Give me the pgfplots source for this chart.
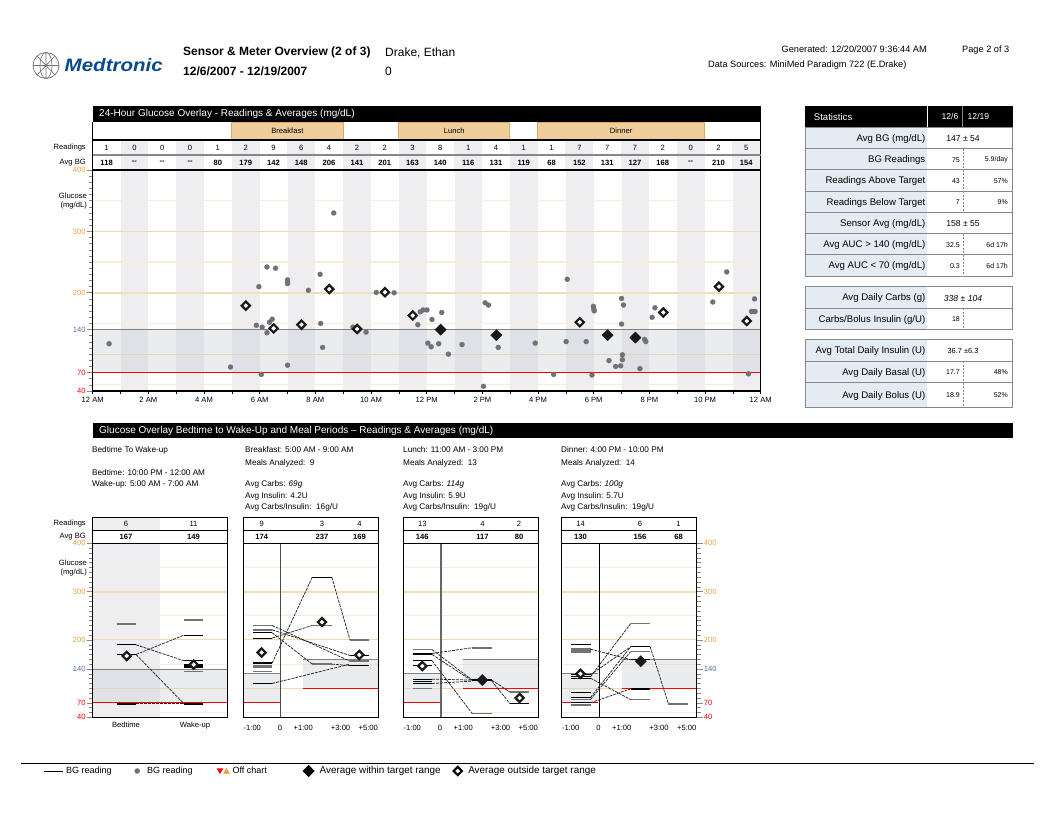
\documentclass[border=0pt]{standalone}
\usepackage{pgfplots}
\pgfplotsset{compat=1.18}
\usepackage{fontspec}
\setmainfont{Liberation Sans}
\definecolor{col}{HTML}{EEEEF1}
\definecolor{tanl}{HTML}{F0D9B0}
\definecolor{tanp}{HTML}{FBEBD8}
\definecolor{tant}{HTML}{F5DDB8}
\definecolor{orng}{HTML}{E3A542}
\definecolor{bluet}{HTML}{55709C}
\definecolor{meal}{HTML}{EFCE9B}
\definecolor{mealb}{HTML}{DDA95E}
\definecolor{dot}{HTML}{6F7278}
\definecolor{lbl}{HTML}{E4EBF2}
\definecolor{rowg}{HTML}{85888B}
\definecolor{navy}{HTML}{0B4A8A}
\definecolor{band}{HTML}{CFD1D7}
\newcommand{\fs}[1]{\fontsize{#1}{#1}\selectfont}
\pgfplotsset{
  yl/.style={ytick={40,70,140,200,300,400},
    yticklabels={\textcolor{red}{40},\textcolor{red}{70},\textcolor{bluet}{140},\textcolor{orng}{200},\textcolor{orng}{300},\textcolor{orng}{400}},
    minor ytick={50,60,...,390},
    major tick length=6pt, minor tick length=4pt,
    tick align=outside,
    ytick style={draw=rowg,line width=.6pt}, minor tick style={draw=rowg,line width=.6pt},
    yticklabel style={font=\fs{7.6},inner sep=0pt,xshift=-1pt}},
  base/.style={scale only axis,anchor=south west,ymin=40,ymax=400,axis on top,
    axis line style={line width=1.2pt,black},clip=true,
    xticklabel style={font=\fs{7.6},inner sep=0pt,yshift=0pt}},
  pan/.style={base,width=135pt,height=174pt,xmin=0,xmax=135,yl,
    xtick={9,36.7,60,97.3,125},xticklabels={-1:00,0,+1:00,+3:00,+5:00},
    xtick style={draw=none},xticklabel style={yshift=-1.5pt},xtick pos=bottom},
  seg/.style={black,line width=.9pt},
  segg/.style={black!55,line width=1.6pt},
  segk/.style={black,line width=1.5pt},
  con/.style={black!85,line width=.75pt,dash pattern=on 3pt off 1pt},
  hol/.style={only marks,mark=square*,mark size=2.9pt,
     mark options={rotate=45,fill=white,draw=black!90,line width=2.2pt}},
  fil/.style={only marks,mark=square*,mark size=4pt,
     mark options={rotate=45,fill=black!90,draw=black!90,line width=.3pt}},
}
\newcommand{\Hl}[1]{\addplot[tanp,line width=1.2pt] coordinates {(0,#1)(\Xmax,#1)};}
\newcommand{\Hm}[1]{\addplot[tanl,line width=1pt] coordinates {(0,#1)(\Xmax,#1)};}
\newcommand{\Hb}[1]{\addplot[tant,line width=2pt] coordinates {(0,#1)(\Xmax,#1)};}
\newcommand{\sg}[4][seg]{\addplot[#1] coordinates {(#2,#4)(#3,#4)};}
\newcommand{\cn}[4]{\addplot[con] coordinates {(#1,#2)(#3,#4)};}
\newcommand{\pre}[2][seg]{\sg[#1]{9.2}{28.8}{#2}}
\newcommand{\pa}[2][seg]{\sg[#1]{69}{88.5}{#2}}
\newcommand{\pb}[2][seg]{\sg[#1]{106.7}{126}{#2}}
\newcommand{\pcn}[2]{\cn{28.8}{#1}{69}{#2}}
\newcommand{\qcn}[2]{\cn{88.5}{#1}{106.7}{#2}}
\newcommand{\rcn}[2]{\cn{28.8}{#1}{106.7}{#2}}
\newcommand{\glines}{\Hl{350}\Hb{300}\Hl{250}\Hm{200}\Hl{150}\Hm{100}\Hl{50}}
\newcommand{\mealbands}{%
  \fill[band,opacity=.42] (0,70) rectangle (36.7,130);
  \fill[band,opacity=.42] (60,100) rectangle (135,160);
  \addplot[black!50,line width=.8pt] coordinates {(0,130)(36.7,130)};
  \addplot[black!50,line width=.8pt] coordinates {(60,160)(135,160)};
  \addplot[red,line width=.9pt] coordinates {(0,70)(36.7,70)};
  \addplot[red,line width=.9pt] coordinates {(60,100)(135,100)};
}
\newcommand{\srow}[5]{%
  \fill[lbl] (805.3,#1) rectangle (927,#2);
  \draw[rowg,line width=1pt] (805.3,#1) rectangle (1012.7,#2);
  \node[left,inner sep=0pt,font=\fs{9.6}] at (925.5,{(#1+#2)/2+.8}) {#3};
  \draw[rowg,line width=.7pt,dash pattern=on 2pt off 1.5pt] (963.5,#1)--(963.5,#2);
  \node[left,inner sep=0pt,font=\fs{7}] at (960,{(#1+#2)/2+.5}) {#4};
  \node[left,inner sep=0pt,font=\fs{7}] at (1008,{(#1+#2)/2+.5}) {#5};
}
\newcommand{\srowc}[4][\fs{8.6}]{%
  \fill[lbl] (805.3,#2) rectangle (927,#3);
  \draw[rowg,line width=1pt] (805.3,#2) rectangle (1012.7,#3);
  \node[left,inner sep=0pt,font=\fs{9.6}] at (925.5,{(#2+#3)/2+.8}) {\statl};
  \node[inner sep=0pt,font=#1] at (963,{(#2+#3)/2+.8}) {#4};
}
\begin{document}
\begin{tikzpicture}
\path[use as bounding box] (0,0) rectangle (1053pt,-818pt);
\begin{scope}[x=1pt,y=-1pt]
% header
\draw[black!55,line width=.7pt] (46,65.5) circle (13);
\draw[black!55,line width=.6pt] (33,65.5)--(59,65.5) (46,52.5)--(46,78.5) (37,56)--(55,75) (55,56)--(37,75) (46,65.5) ellipse (6 and 13);
\node[right,inner sep=0pt,text=navy,font=\fs{18}\bfseries\itshape,xscale=1.14] at (64.5,65.5) {Medtronic};
\node[right,inner sep=0pt,font=\fs{12}\bfseries] at (183,52.5) {Sensor \& Meter Overview (2 of 3)};
\node[right,inner sep=0pt,font=\fs{12}\bfseries] at (183,71.5) {12/6/2007 - 12/19/2007};
\node[right,inner sep=0pt,font=\fs{12}] at (385,52.5) {Drake, Ethan};
\node[right,inner sep=0pt,font=\fs{12}] at (385,71.5) {0};
\node[left,inner sep=0pt,font=\fs{9.2}] at (927,49.7) {Generated: 12/20/2007 9:36:44 AM};
\node[left,inner sep=0pt,font=\fs{9.2}] at (1009.5,49.7) {Page 2 of 3};
\node[right,inner sep=0pt,font=\fs{9.2}] at (708,65) {Data Sources: MiniMed Paradigm 722 (E.Drake)};
% top bar + header rows
\fill[black] (92.7,106.5) rectangle (760.7,122);
\node[right,inner sep=0pt,text=white,font=\fs{10}] at (99,114.3) {24-Hour Glucose Overlay - Readings \& Averages (mg/dL)};
\foreach \a/\b/\t in {5/9/Breakfast,11/15/Lunch,16/22/Dinner}{
  \draw[mealb,fill=meal,line width=.9pt] ({92.7+27.81*\a},122) rectangle ({92.7+27.81*\b},140);
  \node[inner sep=0pt,font=\fs{7.6}] at ({92.7+27.81*(\a+\b)/2},131) {\t};
}
\foreach \h in {1,3,...,23}{\fill[col] ({92.7+27.81*\h},140) rectangle ({92.7+27.81*(\h+1)},170);}
\foreach \h/\r/\v in {0/1/118,1/0/{-{}-},2/0/{-{}-},3/0/{-{}-},4/1/80,5/2/179,6/9/142,7/6/148,8/4/206,9/2/141,10/2/201,11/3/163,12/8/140,13/1/116,14/4/131,15/1/119,16/1/68,17/7/152,18/7/131,19/7/127,20/2/168,21/0/{-{}-},22/2/210,23/5/154}{
  \node[inner sep=0pt,font=\fs{7.6}] at ({92.7+27.81*(\h+.5)},147.5) {\r};
  \node[inner sep=0pt,font=\fs{7.6}\bfseries] at ({92.7+27.81*(\h+.5)},162.5) {\v};
}
\draw[black,line width=1.1pt] (92.7,122)--(92.7,170) (760.7,122)--(760.7,170) (92.7,140)--(760.7,140);
\draw[rowg,line width=1.1pt] (92.7,155)--(760.7,155);
\node[left,inner sep=0pt,font=\fs{7.6}] at (86,147.5) {Readings};
\node[left,inner sep=0pt,font=\fs{7.6}] at (86,162.5) {Avg BG};
\node[left,inner sep=0pt,font=\fs{7.6}] at (87,196) {Glucose};
\node[left,inner sep=0pt,font=\fs{7.6}] at (87,205.5) {(mg/dL)};
% statistics
\fill[black] (805.3,106.5) rectangle (1012.7,127.3);
\draw[white,line width=.8pt] (927.7,106.5)--(927.7,127.3);
\draw[rowg,line width=.8pt] (962.3,106.5)--(962.3,127.3);
\node[right,inner sep=0pt,text=white,font=\fs{9.6}] at (813.7,116.8) {Statistics};
\node[left,inner sep=0pt,text=white,font=\fs{8.6}] at (958.5,116.8) {12/6};
\node[right,inner sep=0pt,text=white,font=\fs{8.6}] at (967.5,116.8) {12/19};
\def\statl{Avg BG (mg/dL)}\srowc{127.3}{148.7}{147 ± 54}
\srow{148.7}{169.7}{BG Readings}{75}{5.9/day}
\srow{169.7}{191.3}{Readings Above Target}{43}{57\%}
\srow{191.3}{212.3}{Readings Below Target}{7}{9\%}
\def\statl{Sensor Avg (mg/dL)}\srowc{212.3}{233.7}{158 ± 55}
\srow{233.7}{255}{Avg AUC > 140 (mg/dL)}{32.5}{6d 17h}
\srow{255}{276.3}{Avg AUC < 70 (mg/dL)}{0.3}{6d 17h}
\def\statl{Avg Daily Carbs (g)}\srowc{286.3}{308.3}{\itshape 338 ± 104}
\srow{308.3}{329.3}{Carbs/Bolus Insulin (g/U)}{18}{}
\def\statl{Avg Total Daily Insulin (U)}\srowc[\fs{7.4}]{339.3}{361.3}{36.7 ±6.3}
\srow{361.3}{382.7}{Avg Daily Basal (U)}{17.7}{48\%}
\srow{382.7}{407.3}{Avg Daily Bolus (U)}{18.9}{52\%}
% second bar
\fill[black] (92.7,423) rectangle (1012.7,438.5);
\node[right,inner sep=0pt,text=white,font=\fs{10}] at (99,431) {Glucose Overlay Bedtime to Wake-Up and Meal Periods -- Readings \& Averages (mg/dL)};
\foreach \x/\y/\t in {
 92/450/Bedtime To Wake-up, 92/472.5/{Bedtime: 10:00 PM - 12:00 AM}, 92/484.5/{Wake-up: 5:00 AM - 7:00 AM},
 245/450/{Breakfast: 5:00 AM - 9:00 AM}, 245/463/{Meals Analyzed:\ \ 9}, 245/484.5/{Avg Carbs: \textit{69g}}, 245/496.5/{Avg Insulin: 4.2U}, 245/507.5/{Avg Carbs/Insulin:\ \ 16g/U},
 403/450/{Lunch: 11:00 AM - 3:00 PM}, 403/463/{Meals Analyzed:\ \ 13}, 403/484.5/{Avg Carbs: \textit{114g}}, 403/496.5/{Avg Insulin: 5.9U}, 403/507.5/{Avg Carbs/Insulin:\ \ 19g/U},
 561/450/{Dinner: 4:00 PM - 10:00 PM}, 561/463/{Meals Analyzed:\ \ 14}, 561/484.5/{Avg Carbs: \textit{100g}}, 561/496.5/{Avg Insulin: 5.7U}, 561/507.5/{Avg Carbs/Insulin:\ \ 19g/U}}{
  \node[right,inner sep=0pt,font=\fs{8.2}] at (\x,\y) {\t};
}
% panel header rows
\fill[col] (92.7,517.3) rectangle (160,530.7);
\foreach \l in {92.7,243.3,403.3,561.7}{
  \draw[black,line width=1.1pt] (\l,517.3) rectangle (\l+135,543.5);
  \draw[black,line width=1.1pt] (\l,530.7)--(\l+135,530.7);
}
\foreach \x/\r/\v in {126/6/167,193.5/11/149,261.7/9/174,322/3/237,359.5/4/169,422.3/13/146,482.5/4/117,519/2/80,580.5/14/130,640/6/156,678.5/1/68}{
  \node[inner sep=0pt,font=\fs{7.6}] at (\x,524) {\r};
  \node[inner sep=0pt,font=\fs{7.6}\bfseries] at (\x,537) {\v};
}
\node[left,inner sep=0pt,font=\fs{7.6}] at (86,523.5) {Readings};
\node[left,inner sep=0pt,font=\fs{7.6}] at (86,536.5) {Avg BG};
\node[left,inner sep=0pt,font=\fs{7.6}] at (87,563) {Glucose};
\node[left,inner sep=0pt,font=\fs{7.6}] at (87,573) {(mg/dL)};
% legend rule
\draw[black,line width=.9pt] (21,763)--(1034,763);
\end{scope}
%---- 24-hour chart
\def\Xmax{24}
\begin{axis}[base,yl,at={(92.7pt,-391pt)},width=668pt,height=221pt,xmin=0,xmax=24,
  xtick={0,2,...,24},minor xtick={1,3,...,23},
  xticklabels={12 AM,2 AM,4 AM,6 AM,8 AM,10 AM,12 PM,2 PM,4 PM,6 PM,8 PM,10 PM,12 AM},
  xtick pos=bottom,ytick pos=left,
  xtick style={draw=black,line width=.6pt,/pgfplots/major tick length=3.5pt},
  minor x tick style={draw=black,line width=.6pt,/pgfplots/minor tick length=3.5pt},
  xticklabel style={yshift=0pt}]
\foreach \a/\b in {1/2,3/4,5/6,7/8,9/10,11/12,13/14,15/16,17/18,19/20,21/22,23/24}{\edef\tmp{\noexpand\fill[col] (\a,40) rectangle (\b,400);}\tmp}
\Hl{350}\Hm{300}\Hl{250}\Hb{200}\Hl{150}\Hm{100}\Hl{50}
\addplot[only marks,mark=*,mark size=2.6pt,mark options={fill=dot,draw=dot,line width=.1pt}] coordinates {
(0.59,117)(4.95,79)(5.88,147)(5.97,210)(6.06,67)(6.09,144)(6.26,135)(6.26,242)(6.35,152)(6.45,157)(6.57,240)(7,221)(7,218)(7,215)(7,82)(7.75,204)(8.17,230)(8.19,150)(8.26,111)(8.66,330)(9.35,144)(9.82,136)(10.19,200.5)(10.83,200)(11.68,148)(11.77,169)(11.87,172)(12.01,172)(12.04,118)(12.16,112)(12.19,156.5)(12.43,117)(12.54,168)(12.78,100)(13.27,115.6)(14.04,47.6)(14.1,183.7)(14.22,180)(14.57,111)(15.9,118)(16.56,67)(17.01,120.5)(17.05,222)(17.73,120.5)(17.94,66)(17.99,178)(18,174)(18.02,170.6)(18.55,89.5)(18.79,80)(18.97,81)(19,190.7)(19,149)(19.03,91)(19.03,99)(19.07,180)(19.66,76.5)(19.83,124)(19.87,120.5)(20.1,160)(20.2,175.5)(22.28,185)(22.78,234)(23.56,68)(23.67,169.5)(23.73,169.5)(23.78,190)(23.80,169.5)};
\fill[band,opacity=.42] (0,70) rectangle (24,140);
\addplot[black!50,line width=.9pt] coordinates {(0,140)(24,140)};
\addplot[red,line width=.9pt] coordinates {(0,70)(24,70)};
\addplot[hol] coordinates {(5.5,179)(6.5,142)(7.5,148)(8.5,206)(9.5,141)(10.5,201)(11.5,163)(17.5,152)(20.5,168)(22.5,210)(23.5,154)};
\addplot[fil] coordinates {(12.5,140)(14.5,131)(18.5,131)(19.5,127)};
\end{axis}
%---- panels
\def\Xmax{135}
\begin{axis}[pan,at={(92.7pt,-717.3pt)},ytick pos=left,xtick={33.3,102.3},xticklabels={Bedtime,Wake-up},xticklabel style={yshift=3pt}]
\fill[col] (0,40) rectangle (67.3,400);
\glines
\fill[band,opacity=.42] (0,70) rectangle (135,140);
\addplot[black!50,line width=.8pt] coordinates {(0,140)(135,140)};
\addplot[red,line width=.9pt] coordinates {(0,70)(135,70)};
\sg[segg]{24}{43.3}{233}\sg[seg]{24}{43.3}{190}\sg[segk]{24}{43.3}{170}\sg[segk]{24}{43.3}{68}
\sg[segg]{91.3}{110.7}{241}\sg{91.3}{110.7}{210}\sg{91.3}{110.7}{157}\sg{91.3}{110.7}{150}\sg{91.3}{110.7}{147}\sg{91.3}{110.7}{145}\sg{91.3}{110.7}{143}\sg[segg]{91.3}{110.7}{135}\sg[segk]{91.3}{110.7}{68}
\cn{43.3}{190}{91.3}{157}\cn{43.3}{170}{91.3}{210}\cn{43.3}{170}{91.3}{68}\cn{43.3}{68}{91.3}{68}
\addplot[hol] coordinates {(34,167)(101,149)};
\end{axis}
\begin{axis}[pan,at={(243.3pt,-717.3pt)},ytick=\empty,minor ytick=\empty]
\glines\mealbands
\addplot[black!70,line width=1pt] coordinates {(36.7,40)(36.7,400)};
\pre[segg]{230}\pre[segg]{221}\pre{215}\pre{204}\pre[segk]{152}\pre[segg]{147}\pre[segg]{143.5}\pre[segg]{135}\pre{110}
\pa{330}\pa[segg]{230}\pa[segg]{150}
\pb[segg]{200}\pb{168}\pb[segg]{156}\pb{147}
\pcn{152}{330}\qcn{330}{200}\rcn{230}{156}\rcn{221}{168}\pcn{215}{150}\pcn{204}{230}\rcn{110}{150}\qcn{150}{147}
\addplot[hol] coordinates {(18.3,174)(78.7,237)(116,169)};
\end{axis}
\begin{axis}[pan,at={(403.3pt,-717.3pt)},ytick=\empty,minor ytick=\empty]
\glines\mealbands
\addplot[black!60,line width=1.1pt] coordinates {(37.7,40)(37.7,400)};
\pre[segg]{180}\pre[segk]{172}\pre[segk]{170}\pre{157}\pre{147}\pre{119}\pre{115}\pre{110}\pre[segg]{100}
\pa[segg]{184}\pa{119}\pa{117}\pa[segg]{47.6}
\pb[segg]{92}\pb{68}
\pcn{172}{184}\pcn{180}{117}\pcn{170}{115}\pcn{157}{47.6}\pcn{119}{117}\pcn{110}{115}
\qcn{117}{92}\qcn{115}{68}
\addplot[hol] coordinates {(19,146)(116.3,80)};
\addplot[fil] coordinates {(79,117)};
\end{axis}
\begin{axis}[pan,at={(561.7pt,-717.3pt)},ytick pos=right,
  yticklabel style={xshift=2pt}]
\glines\mealbands
\addplot[black,line width=1pt] coordinates {(37.7,40)(37.7,400)};
\pre{191}\pre[segg]{181}\pre[segg]{177}\pre[segg]{174}\pre{128}\pre{124}\pre{121}\pre{92}\pre[segk]{81}\pre[segg]{77}\pre{70}\pre[segg]{66}
\pa[segg]{234}\pa{186}\pa[segg]{176}\pa{159}\pa[segk]{99}\pa[segg]{76.6}
\pb[segg]{68}
\pcn{124}{234}\pcn{181}{159}\pcn{128}{186}\pcn{121}{76.6}\pcn{81}{186}\pcn{77}{176}\pcn{70}{99}\qcn{186}{68}
\addplot[hol] coordinates {(18.7,130)};
\addplot[fil] coordinates {(79,156)};
\end{axis}
%---- legend
\begin{axis}[at={(43pt,-771pt)},anchor=west,scale only axis,width=560pt,height=10pt,hide axis,xmin=0,xmax=1,ymin=0,ymax=1,
  legend columns=5,
  legend style={at={(0,0.5)},anchor=west,draw=none,fill=none,inner sep=0pt,font=\fs{9},
    /tikz/column 1/.style={column sep=1pt},
    /tikz/column 2/.style={column sep=21pt},
    /tikz/column 3/.style={column sep=5.4pt},
    /tikz/column 4/.style={column sep=22pt},
    /tikz/column 5/.style={column sep=1pt},
    /tikz/column 6/.style={column sep=34pt},
    /tikz/column 7/.style={column sep=3.4pt},
    /tikz/column 8/.style={column sep=11pt},
    /tikz/column 9/.style={column sep=4.5pt}},
  legend cell align=left]
\addlegendimage{legend image code/.code={\draw[black,line width=.9pt] (0pt,0pt)--(19pt,0pt);}}
\addlegendentry{BG reading}
\addlegendimage{legend image code/.code={\draw plot[mark=*,mark size=2.6pt,mark options={fill=dot,draw=dot,line width=.1pt}] coordinates {(0pt,0pt)};}}
\addlegendentry{BG reading}
\addlegendimage{legend image code/.code={
  \fill[red] (0pt,2.5pt)--(6pt,2.5pt)--(3pt,-2.5pt)--cycle;
  \fill[orng] (6.5pt,-2.5pt)--(12.5pt,-2.5pt)--(9.5pt,2.5pt)--cycle;}}
\addlegendentry{Off chart}
\addlegendimage{legend image code/.code={\draw plot[mark=square*,mark size=4pt,mark options={rotate=45,fill=black,draw=black}] coordinates {(0pt,0pt)};}}
\addlegendentry{\fs{9.9}Average within target range}
\addlegendimage{legend image code/.code={\draw plot[mark=square*,mark size=2.9pt,mark options={rotate=45,fill=white,draw=black,line width=2.2pt}] coordinates {(0pt,0pt)};}}
\addlegendentry{\fs{9.9}Average outside target range}
\end{axis}
\end{tikzpicture}
\end{document}
